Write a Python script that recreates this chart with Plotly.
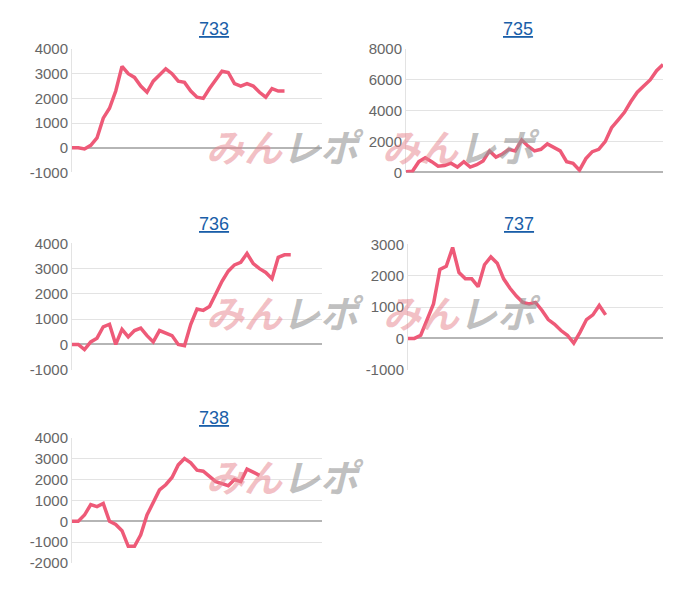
import plotly.graph_objects as go

titles = ["733", "735", "736", "737", "738"]
s733 = [0,0,-50,100,400,1200,1600,2300,3300,3000,2850,2500,2250,2700,2950,3200,3000,2700,2650,2300,2050,2000,2400,2750,3100,3050,2600,2500,2600,2500,2250,2050,2400,2300,2300]
s735 = [50,80,700,950,700,400,450,600,350,700,350,500,750,1400,1000,1200,1500,1400,2100,1700,1400,1500,1850,1600,1400,700,600,150,900,1350,1500,2000,2900,3400,3900,4600,5200,5600,6000,6600,7000]
s736 = [0,0,-200,100,250,700,800,0,600,300,550,650,350,100,550,450,350,0,-50,800,1400,1350,1500,2000,2500,2900,3150,3250,3600,3200,3000,2850,2600,3450,3550,3550]
s737 = [0,0,100,600,1100,2200,2300,2900,2100,1900,1900,1650,2350,2600,2400,1900,1600,1350,1150,1100,1150,900,600,450,250,100,-150,200,600,750,1050,750]
s738 = [0,0,300,800,700,850,0,-150,-450,-1200,-1200,-650,300,900,1500,1750,2100,2700,3000,2800,2450,2400,2150,1900,1800,1700,2000,1900,2500,2350,2200]
series = [s733, s735, s736, s737, s738]
yticks = [[-1000,0,1000,2000,3000,4000],[0,2000,4000,6000,8000],[-1000,0,1000,2000,3000,4000],
          [-1000,0,1000,2000,3000],[-2000,-1000,0,1000,2000,3000,4000]]

W, H = 700, 600
DX, DY = -8, -13
boxes = [(72,322,46,173),(406,663,46,173),(72,322,246,376),(408,663,247,376),(72,322,446,575)]
title_y = [25,226,426]

fig = go.Figure()
for i,(t,s,tv,b) in enumerate(zip(titles,series,yticks,boxes)):
    n = i+1
    xa = "x" if n==1 else f"x{n}"
    ya = "y" if n==1 else f"y{n}"
    fig.add_trace(go.Scatter(x=list(range(len(s))), y=s, mode="lines",
        line=dict(color="#ee5a78", width=3.5), xaxis=xa, yaxis=ya, showlegend=False, hoverinfo="skip"))
    x0,x1,yt,yb = b
    x0+=DX; x1+=DX; yt+=DY; yb+=DY
    xkey = "xaxis" if n==1 else f"xaxis{n}"
    ykey = "yaxis" if n==1 else f"yaxis{n}"
    fig.layout[xkey] = dict(domain=[x0/W, x1/W], range=[0,40], showticklabels=False, showgrid=False,
        zeroline=False, showline=False, anchor=ya)
    fig.layout[ykey] = dict(domain=[1-yb/H, 1-yt/H], range=[tv[0], tv[-1]], tickmode="array",
        tickvals=tv, ticktext=[str(v) for v in tv], gridcolor="#e3e3e3",
        zeroline=True, zerolinecolor="#b5b5b5", zerolinewidth=1.5, showline=True, linecolor="#e3e3e3",
        tickfont=dict(family="Arial", size=15, color="#666666"), anchor=xa, ticks="")
    cx = (x0+x1)/2/W
    ty = title_y[i//2] + DY
    fig.add_annotation(x=cx, y=1-ty/H, xref="paper", yref="paper", text=f"<u>{t}</u>", showarrow=False,
        font=dict(family="Arial", size=18, color="#1a5ea8"), yanchor="middle")
    my = 1-((yt+yb)/2+5)/H
    fig.add_annotation(x=cx+0.01, y=my, xref="paper", yref="paper",
        text="<b><i><span style='color:rgba(230,130,140,0.5)'>みん</span><span style='color:rgba(150,150,150,0.6)'>レポ</span></i></b>",
        showarrow=False, font=dict(family="Noto Sans CJK JP", size=38))

fig.update_layout(width=W, height=H, margin=dict(l=0,r=0,t=0,b=0), plot_bgcolor="white", paper_bgcolor="white")
fig.write_html("out.html")
